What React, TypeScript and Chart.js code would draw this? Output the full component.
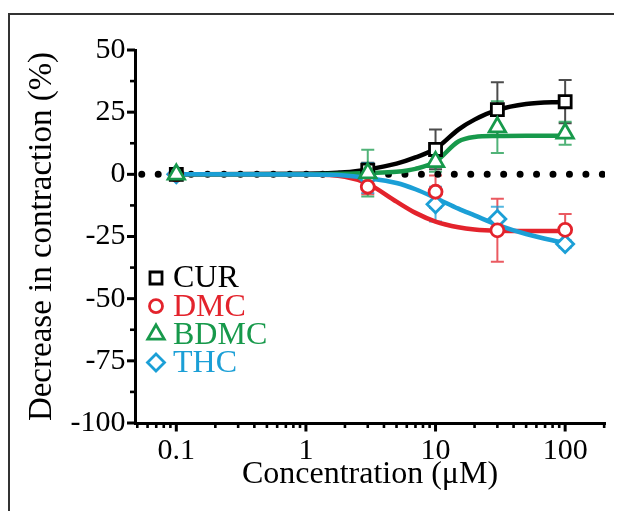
import { useEffect, useRef } from 'react';
import { Chart, registerables } from 'chart.js';
import { drawPoint } from 'chart.js/helpers';

Chart.register(...registerables);

// ---------- data ----------
const concentrations = [0.1, 3, 10, 30, 100];

const curMean = [0, 1.7, 10, 26, 29.2];
const curErr = [0, 3, 8, 11, 8.7];
const dmcMean = [0, -5, -7, -22.5, -22.3];
const dmcErr = [0, 3, 6.5, 12.7, 6.3];
const bdmcMean = [0, 0.5, 5, 19, 16.5];
const bdmcErr = [0, 9.4, 4, 10.4, 4.6];
const thcMean = [0, -1.5, -12, -18, -28];
const thcErr = [0, 6, 7, 5, 1.5];

// fitted curves
const fitConc = [0.1, 1, 2, 3, 5, 7, 10, 15, 20, 30, 50, 100];
const curFit = [0, 0.2, 0.8, 2, 4.3, 6.8, 10.3, 18, 22, 25.9, 28.3, 29.2];
const dmcFit = [0, -0.1, -1, -3.8, -11, -15.5, -19, -21.3, -22.2, -22.7, -22.8, -22.8];
const bdmcFit = [0, 0, 0.2, 0.5, 1.0, 2.2, 5.1, 13.2, 15, 15.4, 15.5, 15.5];
const thcFit = [0, -0.1, -0.5, -1.5, -3.5, -6, -9.5, -13.8, -16.5, -20.3, -24, -27.7];

const seriesNames = ['CUR', 'DMC', 'BDMC', 'THC'];

const xTickValues = [
  0.05, 0.06, 0.07, 0.08, 0.09,
  0.1, 0.2, 0.3, 0.4, 0.5, 0.6, 0.7, 0.8, 0.9,
  1, 2, 3, 4, 5, 6, 7, 8, 9,
  10, 20, 30, 40, 50, 60, 70, 80, 90,
  100, 200,
];
const xMajorValues = [0.1, 1, 10, 100];
const xTickLabels = ['0.1', '1', '10', '100'];
const yLabelValues = [-100, -75, -50, -25, 0, 25, 50];

// ---------- styles ----------
const FONT = '"Liberation Serif", "Times New Roman", serif';
const STYLE: Record<string, { color: string; err: string; point: string; radius: number }> = {
  CUR: { color: '#000000', err: 'rgba(0,0,0,0.7)', point: 'rect', radius: 8.5 },
  DMC: { color: '#e3232c', err: 'rgba(227,35,44,0.75)', point: 'circle', radius: 6.5 },
  BDMC: { color: '#17994b', err: 'rgba(23,153,75,0.75)', point: 'triangle', radius: 9.5 },
  THC: { color: '#1b9fd6', err: 'rgba(27,159,214,0.75)', point: 'rectRot', radius: 8.5 },
};

const means = [curMean, dmcMean, bdmcMean, thcMean];
const errs = [curErr, dmcErr, bdmcErr, thcErr];
const fits = [curFit, dmcFit, bdmcFit, thcFit];

const errorBarPlugin = {
  id: 'errorBars',
  beforeDatasetsDraw(chart: any) {
    const { ctx } = chart;
    const xs = chart.scales.x;
    const ys = chart.scales.y;
    ctx.save();
    seriesNames.forEach((name, si) => {
      ctx.strokeStyle = STYLE[name].err;
      ctx.lineWidth = 2;
      concentrations.forEach((c, i) => {
        const e = errs[si][i];
        if (!e) return;
        const m = means[si][i];
        const px = xs.getPixelForValue(c);
        const top = ys.getPixelForValue(m + e);
        const bot = ys.getPixelForValue(m - e);
        ctx.beginPath();
        ctx.moveTo(px, top);
        ctx.lineTo(px, bot);
        ctx.moveTo(px - 6.5, top);
        ctx.lineTo(px + 6.5, top);
        ctx.moveTo(px - 6.5, bot);
        ctx.lineTo(px + 6.5, bot);
        ctx.stroke();
      });
    });
    ctx.restore();
  },
};

const tickMarksPlugin = {
  id: 'tickMarks',
  afterDraw(chart: any) {
    const { ctx, chartArea } = chart;
    const xs = chart.scales.x;
    const ys = chart.scales.y;
    ctx.save();
    ctx.strokeStyle = '#000';
    ctx.lineCap = 'butt';
    xs.ticks.forEach((t: any) => {
      const px = xs.getPixelForValue(t.value);
      if (px < chartArea.left - 1 || px > chartArea.right + 1) return;
      const major = xMajorValues.includes(t.value);
      ctx.lineWidth = major ? 3 : 2.6;
      ctx.beginPath();
      ctx.moveTo(px, chartArea.bottom);
      ctx.lineTo(px, chartArea.bottom + (major ? 8.5 : 5));
      ctx.stroke();
    });
    ys.ticks.forEach((t: any) => {
      const py = ys.getPixelForValue(t.value);
      const major = yLabelValues.includes(t.value);
      ctx.lineWidth = major ? 3 : 2.6;
      ctx.beginPath();
      ctx.moveTo(chartArea.left, py);
      ctx.lineTo(chartArea.left - (major ? 8 : 5), py);
      ctx.stroke();
    });
    ctx.restore();
  },
};

const legendPlugin = {
  id: 'insideLegend',
  afterDraw(chart: any) {
    const { ctx, chartArea } = chart;
    const mx = chartArea.left + 21;
    const tx = chartArea.left + 38;
    const y0 = chartArea.top + 228;
    const dy = 28.2;
    ctx.save();
    ctx.font = `32px ${FONT}`;
    ctx.textBaseline = 'middle';
    ctx.textAlign = 'left';
    seriesNames.forEach((name, i) => {
      const st = STYLE[name];
      const y = y0 + i * dy;
      ctx.strokeStyle = st.color;
      ctx.fillStyle = '#ffffff';
      ctx.lineWidth = 2.8;
      drawPoint(ctx, { pointStyle: st.point, radius: st.radius, rotation: 0, borderWidth: 2.8 } as any, mx, y);
      ctx.fillStyle = st.color;
      ctx.fillText(name, tx, y + 1);
    });
    ctx.restore();
  },
};

export default function App() {
  const ref = useRef<HTMLCanvasElement | null>(null);

  useEffect(() => {
    if (!ref.current) return;

    const fitSets = seriesNames.map((name, si) => ({
      type: 'line' as const,
      label: name + ' fit',
      data: fitConc.map((c, i) => ({ x: c, y: fits[si][i] })),
      borderColor: STYLE[name].color,
      borderWidth: 4.5,
      pointRadius: 0,
      cubicInterpolationMode: 'monotone' as const,
      fill: false,
      order: 50 - si,
    }));

    const markerOrder: Record<string, number> = { THC: 10, DMC: 9, CUR: 8, BDMC: 7 };
    const markerSets = seriesNames.map((name, si) => ({
      type: 'line' as const,
      label: name,
      data: concentrations.map((c, i) => ({ x: c, y: means[si][i] })),
      showLine: false,
      borderColor: STYLE[name].color,
      backgroundColor: '#ffffff',
      pointBackgroundColor: '#ffffff',
      pointBorderColor: STYLE[name].color,
      pointBorderWidth: 2.8,
      pointStyle: STYLE[name].point,
      pointRadius: STYLE[name].radius,
      clip: false as any,
      order: markerOrder[name],
    }));

    const zeroLine = {
      type: 'line' as const,
      label: 'zero',
      data: [
        { x: 0.048, y: 0 },
        { x: 203, y: 0 },
      ],
      borderColor: '#000',
      borderWidth: 7,
      borderDash: [0, 16.45],
      borderDashOffset: 9.7,
      borderCapStyle: 'round' as const,
      pointRadius: 0,
      order: 100,
    };

    const chart = new Chart(ref.current, {
      type: 'line',
      data: { datasets: [zeroLine, ...fitSets, ...markerSets] as any },
      options: {
        animation: false,
        responsive: false,
        maintainAspectRatio: false,
        layout: { padding: { top: 42, right: 17, bottom: 0, left: 0 } },
        plugins: { legend: { display: false }, tooltip: { enabled: false } },
        scales: {
          x: {
            type: 'logarithmic',
            min: 0.048,
            max: 203,
            bounds: 'data',
            afterBuildTicks: (s: any) => {
              s.ticks = xTickValues.map((v) => ({ value: v, major: xMajorValues.includes(v) }));
            },
            afterFit: (s: any) => {
              s.height = 88;
            },
            ticks: {
              autoSkip: false,
              maxRotation: 0,
              minRotation: 0,
              padding: 3,
              color: '#000',
              font: { family: FONT, size: 30 },
              callback: (v: any) => {
                const i = xMajorValues.indexOf(Number(v));
                return i >= 0 ? xTickLabels[i] : '';
              },
            },
            grid: {
              display: true,
              drawOnChartArea: false,
              drawTicks: true,
              tickLength: 7,
              color: 'rgba(0,0,0,0)',
            },
            border: { display: true, color: '#000', width: 3 },
            title: {
              display: true,
              text: 'Concentration (μM)',
              color: '#000',
              font: { family: FONT, size: 32 },
              padding: { top: 0, bottom: 17.5 },
            },
          } as any,
          y: {
            type: 'linear',
            min: -100,
            max: 50,
            afterFit: (s: any) => {
              s.width = 127;
            },
            ticks: {
              stepSize: 12.5,
              autoSkip: false,
              padding: 2.5,
              color: '#000',
              font: { family: FONT, size: 30 },
              callback: (v: any) => (yLabelValues.includes(Number(v)) ? String(v) : ''),
            },
            grid: {
              display: true,
              drawOnChartArea: false,
              drawTicks: true,
              tickLength: 7,
              color: 'rgba(0,0,0,0)',
            },
            border: { display: true, color: '#000', width: 3 },
            title: {
              display: true,
              text: 'Decrease in contraction (%)',
              color: '#000',
              font: { family: FONT, size: 33 },
              padding: { top: 14.2, bottom: 0 },
            },
          } as any,
        },
      },
      plugins: [errorBarPlugin, tickMarksPlugin, legendPlugin],
    });

    return () => chart.destroy();
  }, []);

  return (
    <div style={{ position: 'relative', width: 614, height: 503, overflow: 'hidden' }}>
      <div
        style={{
          position: 'absolute',
          left: 0,
          top: 4.5,
          width: 800,
          height: 800,
          borderTop: '2px solid #333',
          borderLeft: '2px solid #333',
        }}
      />
      <canvas
        ref={ref}
        width={614}
        height={503}
        style={{ position: 'absolute', left: 0, top: 0, width: 614, height: 503, display: 'block' }}
      />
    </div>
  );
}
